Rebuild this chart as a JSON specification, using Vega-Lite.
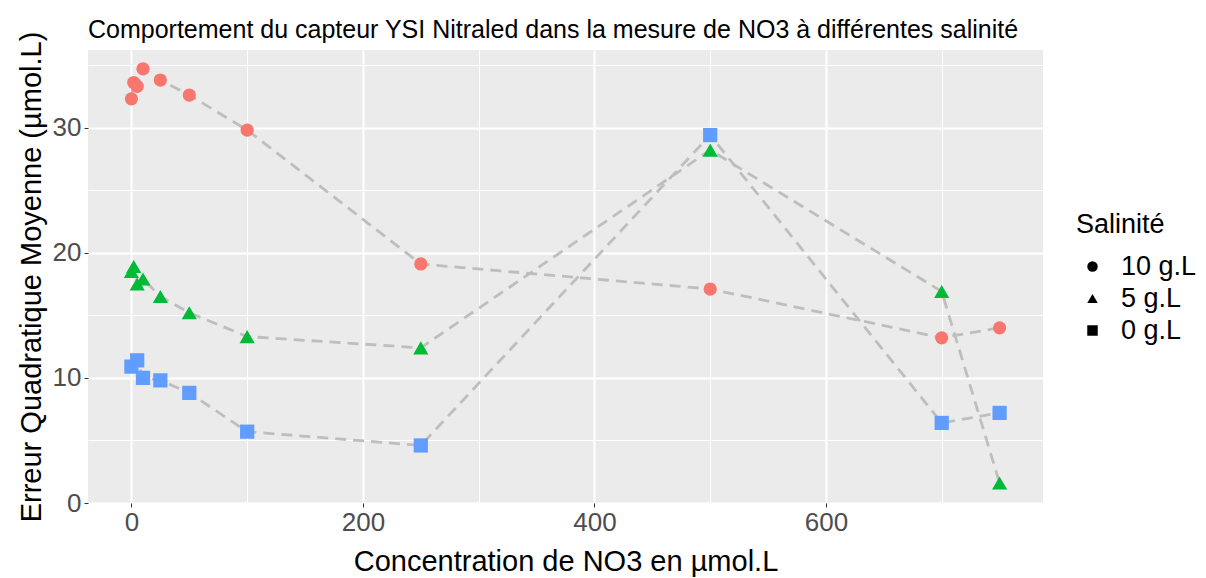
{
  "$schema": "https://vega.github.io/schema/vega-lite/v6.json",
  "width": 955,
  "height": 453,
  "autosize": "none",
  "padding": {"left": 88, "top": 50, "right": 163, "bottom": 75},
  "background": "white",
  "view": {"fill": "#EBEBEB", "stroke": null},
  "config": {"font": "Liberation Sans"},
  "title": {
    "text": "Comportement du capteur YSI Nitraled dans la mesure de NO3 à différentes salinité",
    "anchor": "start",
    "frame": "group",
    "font": "Liberation Sans",
    "fontSize": 25,
    "fontWeight": "normal",
    "color": "black",
    "offset": -12
  },
  "data": {
    "values": [
      {"conc": 0, "eqm": 32.3, "salinite": "10 g.L"},
      {"conc": 2, "eqm": 33.6, "salinite": "10 g.L"},
      {"conc": 5, "eqm": 33.3, "salinite": "10 g.L"},
      {"conc": 10, "eqm": 34.7, "salinite": "10 g.L"},
      {"conc": 25, "eqm": 33.8, "salinite": "10 g.L"},
      {"conc": 50, "eqm": 32.6, "salinite": "10 g.L"},
      {"conc": 100, "eqm": 29.8, "salinite": "10 g.L"},
      {"conc": 250, "eqm": 19.1, "salinite": "10 g.L"},
      {"conc": 500, "eqm": 17.1, "salinite": "10 g.L"},
      {"conc": 700, "eqm": 13.2, "salinite": "10 g.L"},
      {"conc": 750, "eqm": 14.0, "salinite": "10 g.L"},
      {"conc": 0, "eqm": 18.5, "salinite": "5 g.L"},
      {"conc": 2, "eqm": 18.9, "salinite": "5 g.L"},
      {"conc": 5, "eqm": 17.5, "salinite": "5 g.L"},
      {"conc": 10, "eqm": 17.9, "salinite": "5 g.L"},
      {"conc": 25, "eqm": 16.5, "salinite": "5 g.L"},
      {"conc": 50, "eqm": 15.2, "salinite": "5 g.L"},
      {"conc": 100, "eqm": 13.3, "salinite": "5 g.L"},
      {"conc": 250, "eqm": 12.4, "salinite": "5 g.L"},
      {"conc": 500, "eqm": 28.2, "salinite": "5 g.L"},
      {"conc": 700, "eqm": 16.9, "salinite": "5 g.L"},
      {"conc": 750, "eqm": 1.6, "salinite": "5 g.L"},
      {"conc": 0, "eqm": 10.9, "salinite": "0 g.L"},
      {"conc": 5, "eqm": 11.4, "salinite": "0 g.L"},
      {"conc": 10, "eqm": 10.0, "salinite": "0 g.L"},
      {"conc": 25, "eqm": 9.8, "salinite": "0 g.L"},
      {"conc": 50, "eqm": 8.8, "salinite": "0 g.L"},
      {"conc": 100, "eqm": 5.7, "salinite": "0 g.L"},
      {"conc": 250, "eqm": 4.6, "salinite": "0 g.L"},
      {"conc": 500, "eqm": 29.4, "salinite": "0 g.L"},
      {"conc": 700, "eqm": 6.4, "salinite": "0 g.L"},
      {"conc": 750, "eqm": 7.2, "salinite": "0 g.L"}
    ]
  },
  "encoding": {
    "x": {
      "field": "conc",
      "type": "quantitative",
      "scale": {"domain": [-37.5, 787.5], "nice": false, "zero": false},
      "axis": {
        "title": "Concentration de NO3 en µmol.L",
        "titleFont": "Liberation Sans",
        "titleFontSize": 29,
        "titleFontWeight": "normal",
        "titleColor": "black",
        "titlePadding": 12,
        "values": [0, 100, 200, 300, 400, 500, 600, 700],
        "labelExpr": "datum.value % 200 === 0 ? datum.label : ''",
        "labelFont": "Liberation Sans",
        "labelFontSize": 26,
        "labelColor": "#4D4D4D",
        "labelPadding": 2,
        "domain": false,
        "ticks": true,
        "tickColor": "#333333",
        "tickSize": 4,
        "tickWidth": 1,
        "tickOpacity": {"condition": {"test": "datum.value % 200 === 0", "value": 1}, "value": 0},
        "grid": true,
        "gridColor": "white",
        "gridOpacity": 1,
        "gridWidth": {"condition": {"test": "datum.value % 200 === 0", "value": 2}, "value": 1}
      }
    },
    "y": {
      "field": "eqm",
      "type": "quantitative",
      "scale": {"domain": [0, 36.2], "nice": false},
      "axis": {
        "title": "Erreur Quadratique Moyenne (µmol.L)",
        "titleFont": "Liberation Sans",
        "titleFontSize": 29,
        "titleFontWeight": "normal",
        "titleColor": "black",
        "titlePadding": 6,
        "values": [0, 5, 10, 15, 20, 25, 30, 35],
        "labelExpr": "datum.value % 10 === 0 ? datum.label : ''",
        "labelFont": "Liberation Sans",
        "labelFontSize": 26,
        "labelColor": "#4D4D4D",
        "labelPadding": 3,
        "domain": false,
        "ticks": true,
        "tickColor": "#333333",
        "tickSize": 4,
        "tickWidth": 1,
        "tickOpacity": {"condition": {"test": "datum.value % 10 === 0", "value": 1}, "value": 0},
        "grid": true,
        "gridColor": "white",
        "gridOpacity": 1,
        "gridWidth": {"condition": {"test": "datum.value % 10 === 0", "value": 2}, "value": 1}
      }
    }
  },
  "layer": [
    {
      "mark": {"type": "line", "color": "#BEBEBE", "strokeWidth": 2.8, "strokeDash": [11, 7]},
      "encoding": {"detail": {"field": "salinite", "type": "nominal"}}
    },
    {
      "mark": {"type": "point", "filled": true, "opacity": 1},
      "encoding": {
        "color": {
          "field": "salinite",
          "type": "nominal",
          "scale": {"domain": ["0 g.L", "5 g.L", "10 g.L"], "range": ["#619CFF", "#00BA38", "#F8766D"]},
          "legend": null
        },
        "size": {
          "field": "salinite",
          "type": "nominal",
          "scale": {"domain": ["5 g.L", "0 g.L", "10 g.L"], "range": [230, 175, 140]},
          "legend": null
        },
        "shape": {
          "field": "salinite",
          "type": "nominal",
          "scale": {"domain": ["10 g.L", "5 g.L", "0 g.L"], "range": ["circle", "triangle-up", "square"]},
          "legend": {
            "title": "Salinité",
            "orient": "none",
            "legendX": 988,
            "legendY": 162,
            "padding": 0,
            "titleFont": "Liberation Sans",
            "titleFontSize": 27,
            "titleFontWeight": "normal",
            "titleColor": "black",
            "titlePadding": 14,
            "labelFont": "Liberation Sans",
            "labelFontSize": 27,
            "labelColor": "black",
            "labelOffset": 15,
            "symbolFillColor": "black",
            "symbolStrokeColor": "black",
            "symbolStrokeWidth": 0,
            "symbolSize": 110,
            "symbolOffset": 3,
            "rowPadding": 4
          }
        }
      }
    }
  ]
}
